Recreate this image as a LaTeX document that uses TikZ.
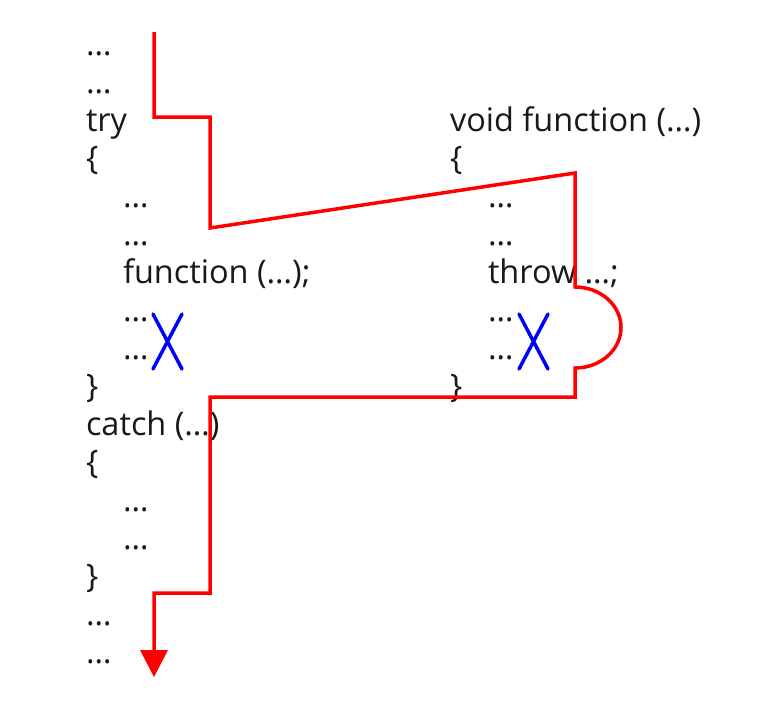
\documentclass[tikz,border=0pt]{standalone}
\usepackage{fontspec}
\setmainfont{Open Sans}
\usetikzlibrary{arrows.meta}
\begin{document}
\begin{tikzpicture}[x=1pt,y=-1pt,
  code/.style={anchor=base west,inner sep=0pt,outer sep=0pt,font=\fontsize{32.5}{36}\selectfont,text=black!90},
  flow/.style={draw=red,line width=3.5pt,line join=miter},
  cross/.style={draw=blue,line width=3.5pt,line cap=round}]
\useasboundingbox[fill=white] (0,0) rectangle (760,718);
% left column
\node[code] (l0) at (86,55) {…};
\node[code] (l1) at (86,93) {…};
\node[code] (l2) at (86,131) {try};
\node[code] (l3) at (86,169) {\{};
\node[code] (l4) at (123,207) {…};
\node[code] (l5) at (123,245) {…};
\node[code] (l6) at (123,283) {function (…);};
\node[code] (l7) at (123,321) {…};
\node[code] (l8) at (123,359) {…};
\node[code] (l9) at (86,397) {\}};
\node[code] (l10) at (86,435) {catch (…)};
\node[code] (l11) at (86,473) {\{};
\node[code] (l12) at (123,511) {…};
\node[code] (l13) at (123,549) {…};
\node[code] (l14) at (86,587) {\}};
\node[code] (l15) at (86,625) {…};
\node[code] (l16) at (86,663) {…};
% right column
\node[code] (r2) at (450,131) {void function (…)};
\node[code] (r3) at (450,169) {\{};
\node[code] (r4) at (488,207) {…};
\node[code] (r5) at (488,245) {…};
\node[code] (r6) at (488,283) {throw …;};
\node[code] (r7) at (488,321) {…};
\node[code] (r8) at (488,359) {…};
\node[code] (r9) at (450,397) {\}};
% crosses
\draw[cross] (153,314) -- (182,369) (182,314) -- (153,369);
\draw[cross] (519,314) -- (548,369) (548,314) -- (519,369);
% flow path
\coordinate (p0) at (154,32);
\coordinate (p1) at (154,117);
\coordinate (p2) at (210,117);
\coordinate (p3) at (210,228);
\coordinate (p4) at (575,173);
\coordinate (p5) at (575,287);
\coordinate (p7) at (575,397);
\coordinate (p8) at (210,397);
\coordinate (p9) at (210,593);
\coordinate (p10) at (154,593);
\coordinate (p11) at (154,677);
\coordinate (p12) at (154,652);
\draw[flow] (p0) -- (p1) -- (p2) -- (p3) -- (p4) -- (p5)
  arc[start angle=90,end angle=-90,x radius=46pt,y radius=40.5pt]
  -- (p7) -- (p8) -- (p9) -- (p10) -- (p12);
\fill[red] (p11) -- (140,650) -- (168,650) -- cycle;
\end{tikzpicture}
\end{document}
